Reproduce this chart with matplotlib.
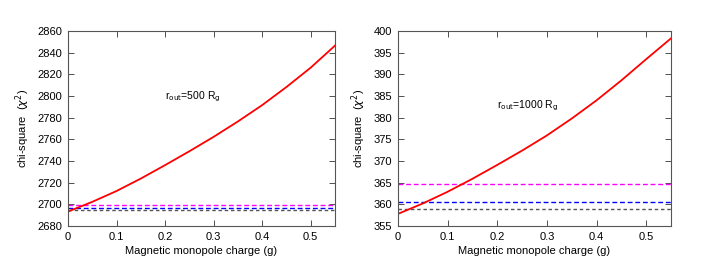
import matplotlib
matplotlib.use('Agg')
import matplotlib.pyplot as plt
import numpy as np

plt.rcParams['font.family'] = ['Liberation Sans', 'DejaVu Sans']

# charge values (g)
g = [0, 0.05, 0.1, 0.15, 0.2, 0.25, 0.3, 0.35, 0.4, 0.45, 0.5, 0.55]

# r_out = 500 Rg
chi_500 = [2693.3, 2702.3, 2712.3, 2723.8, 2736.2, 2749.0, 2762.3, 2776.5, 2791.6, 2808.3, 2826.2, 2846.5]
ref_500 = [2699.6, 2696.2, 2694.6]

# r_out = 1000 Rg
chi_1000 = [357.8, 360.2, 362.9, 365.9, 369.1, 372.4, 375.9, 379.8, 384.0, 388.6, 393.5, 398.3]
ref_1000 = [364.6, 360.6, 358.9]

ref_colors = ['#ff00ff', '#0000ff', '#555555']
ref_dash = [(0, (3.5, 2)), (0, (3.5, 2)), (0, (2.5, 2))]

fig = plt.figure(figsize=(7.03, 2.58), dpi=100)
ax1 = fig.add_axes([68 / 703, 32 / 258, 267 / 703, 195 / 258])
ax2 = fig.add_axes([398 / 703, 32 / 258, 273 / 703, 195 / 258])

panels = [
    (ax1, chi_500, ref_500, (2680, 2860), np.arange(2680, 2861, 20), r'r$_{\rm out}$=500 R$_{\rm g}$', 2799),
    (ax2, chi_1000, ref_1000, (355, 400), np.arange(355, 401, 5), r'r$_{\rm out}$=1000 R$_{\rm g}$', 382.7),
]

for ax, chi, refs, ylim, yticks, label, ylab in panels:
    for val, c, ls in zip(refs, ref_colors, ref_dash):
        ax.axhline(val, color=c, lw=1.0, linestyle=ls)
    ax.plot(g, chi, color='#ff0000', lw=1.3)
    ax.set_xlim(0, 0.55)
    ax.set_ylim(*ylim)
    ax.set_yticks(yticks)
    ax.set_xticks([0, 0.1, 0.2, 0.3, 0.4, 0.5])
    ax.set_xticklabels(['0', '0.1', '0.2', '0.3', '0.4', '0.5'])
    ax.tick_params(direction='in', length=4, width=0.6, top=True, right=True,
                   labelsize=8, colors='#333333', labelcolor='black', pad=4)
    for sp in ax.spines.values():
        sp.set_color('#555555')
        sp.set_linewidth(0.8)
    ax.set_xlabel('Magnetic monopole charge (g)', fontsize=8, labelpad=3)
    ax.set_ylabel(r'chi-square  ($\chi^2$)', fontsize=8, labelpad=4)
    ax.text(0.2, ylab, label, fontsize=7.5, ha='left', va='center')

fig.savefig('out.png', dpi=100)
